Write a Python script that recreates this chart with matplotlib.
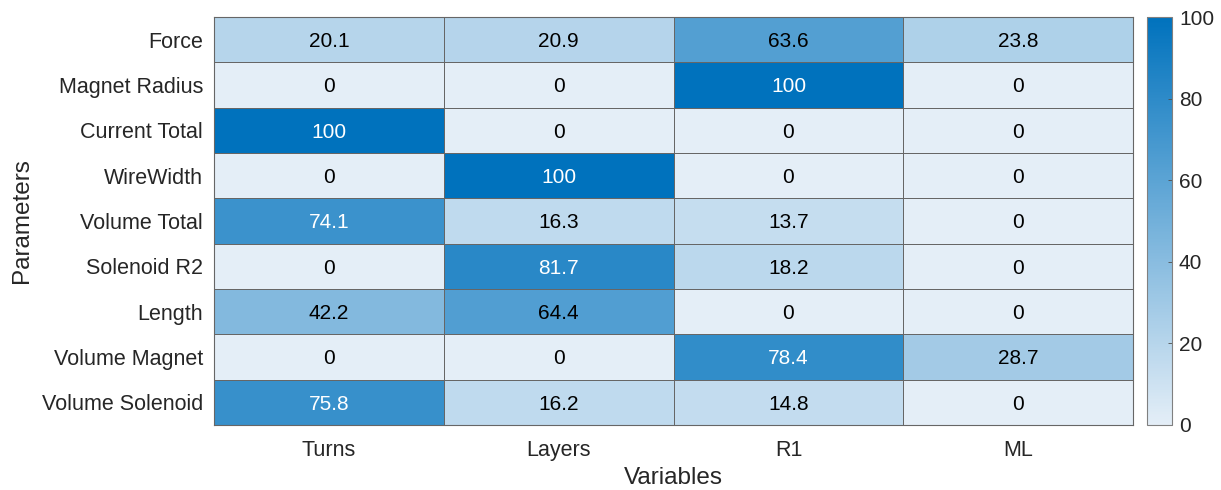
import numpy as np
import matplotlib
matplotlib.use("Agg")
import matplotlib.pyplot as plt
from matplotlib.colors import LinearSegmentedColormap

plt.rcParams['font.family'] = ['Liberation Sans', 'DejaVu Sans']

variables = ["Turns", "Layers", "R1", "ML"]
parameters = ["Force", "Magnet Radius", "Current Total", "WireWidth", "Volume Total",
              "Solenoid R2", "Length", "Volume Magnet", "Volume Solenoid"]
values = np.array([
    [20.1, 20.9, 63.6, 23.8],
    [0, 0, 100, 0],
    [100, 0, 0, 0],
    [0, 100, 0, 0],
    [74.1, 16.3, 13.7, 0],
    [0, 81.7, 18.2, 0],
    [42.2, 64.4, 0, 0],
    [0, 0, 78.4, 28.7],
    [75.8, 16.2, 14.8, 0],
])
labels_fmt = [["%g" % v for v in row] for row in values]

cmap = LinearSegmentedColormap.from_list(
    "blues", [(0.894, 0.933, 0.969), (0.0, 0.447, 0.741)])
text_dark = (0.15, 0.15, 0.15)

fig = plt.figure(figsize=(12.21, 4.90), dpi=100)
ax = fig.add_axes([0.1753, 0.1327, 0.928 - 0.1753, 0.9653 - 0.1327])
cax = fig.add_axes([0.9394, 0.1327, 0.9599 - 0.9394, 0.9653 - 0.1327])

mesh = ax.pcolormesh(values, cmap=cmap, vmin=0, vmax=100,
                     edgecolor=(0.4, 0.4, 0.4), linewidth=0.7)
ax.set_xlim(0, len(variables))
ax.set_ylim(len(parameters), 0)

for i in range(len(parameters)):
    for j in range(len(variables)):
        v = values[i, j]
        color = "white" if v >= 70 else "black"
        ax.text(j + 0.5, i + 0.5, labels_fmt[i][j], ha="center", va="center_baseline",
                fontsize=15, color=color)

ax.set_xticks(np.arange(len(variables)) + 0.5)
ax.set_xticklabels(variables, fontsize=15.5, color=text_dark)
ax.set_yticks(np.arange(len(parameters)) + 0.5)
ax.set_yticklabels(parameters, fontsize=15.5, color=text_dark, va="center_baseline")
ax.tick_params(axis="x", length=0, pad=11)
ax.tick_params(axis="y", length=0, pad=8)
ax.set_xlabel("Variables", fontsize=17.5, color=text_dark, labelpad=4)
ax.set_ylabel("Parameters", fontsize=17.5, color=text_dark, labelpad=6)
for s in ax.spines.values():
    s.set_color((0.4, 0.4, 0.4))
    s.set_linewidth(0.8)

cb = fig.colorbar(mesh, cax=cax, ticks=[0, 20, 40, 60, 80, 100])
cb.outline.set_edgecolor((0.5, 0.5, 0.5))
cb.outline.set_linewidth(0.8)
cax.tick_params(direction="in", length=3, width=0.6, color=(0.3, 0.3, 0.3),
                labelsize=15, labelcolor=text_dark, pad=5)

fig.savefig("out.png", dpi=100)
